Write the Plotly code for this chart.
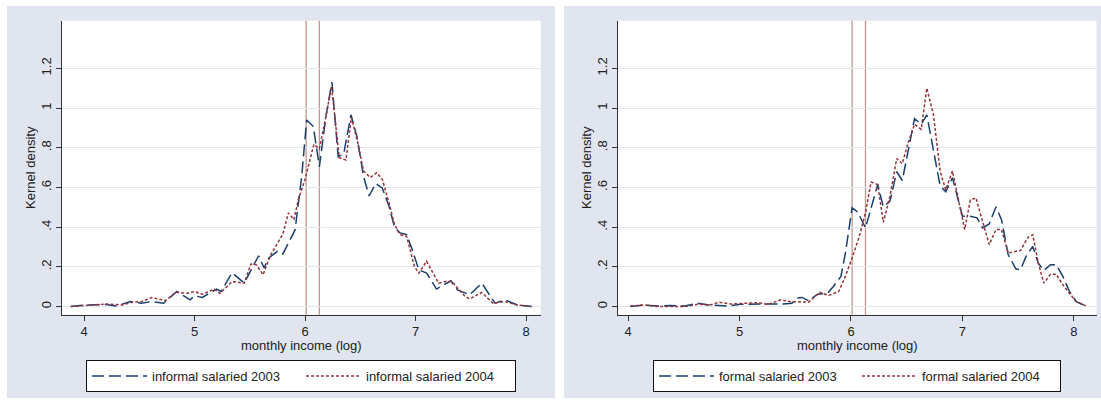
import plotly.graph_objects as go

W, H = 1101, 400

# ---------------- data ----------------
inf03_x = [3.88, 4.00, 4.20, 4.29, 4.42, 4.52, 4.61, 4.72, 4.84, 4.96, 5.00, 5.07, 5.20, 5.24, 5.34, 5.45,
           5.58, 5.63, 5.67, 5.75, 5.80, 5.91, 5.97, 6.015, 6.075, 6.13, 6.19, 6.244, 6.30, 6.35, 6.416,
           6.47, 6.53, 6.58, 6.64, 6.70, 6.76, 6.81, 6.86, 6.92, 6.97, 7.03, 7.10, 7.19, 7.32, 7.38, 7.49,
           7.60, 7.72, 7.81, 7.92, 8.05]
inf03_y = [0, 0.008, 0.01, 0.003, 0.025, 0.017, 0.025, 0.017, 0.076, 0.034, 0.054, 0.046, 0.088, 0.076,
           0.17, 0.118, 0.256, 0.194, 0.244, 0.278, 0.265, 0.386, 0.655, 0.94, 0.907, 0.705, 0.96, 1.13,
           0.755, 0.769, 0.966, 0.856, 0.655, 0.557, 0.62, 0.596, 0.506, 0.40, 0.371, 0.362, 0.287, 0.185,
           0.169, 0.088, 0.13, 0.084, 0.059, 0.118, 0.017, 0.034, 0.008, 0]

inf04_x = [3.88, 4.00, 4.20, 4.34, 4.44, 4.52, 4.61, 4.74, 4.83, 4.94, 5.00, 5.07, 5.18, 5.23, 5.34, 5.45,
           5.51, 5.56, 5.62, 5.69, 5.75, 5.80, 5.85, 5.90, 5.94, 6.00, 6.08, 6.13, 6.19, 6.24, 6.31, 6.37,
           6.42, 6.47, 6.53, 6.59, 6.65, 6.70, 6.76, 6.81, 6.86, 6.92, 6.99, 7.03, 7.10, 7.21, 7.27, 7.33,
           7.45, 7.49, 7.60, 7.70, 7.81, 7.92, 8.05]
inf04_y = [0, 0.005, 0.013, 0.008, 0.022, 0.025, 0.045, 0.03, 0.072, 0.067, 0.076, 0.062, 0.088, 0.066,
           0.126, 0.118, 0.214, 0.21, 0.16, 0.261, 0.32, 0.366, 0.472, 0.438, 0.54, 0.64, 0.817, 0.795,
           0.96, 1.11, 0.75, 0.738, 0.952, 0.843, 0.683, 0.65, 0.674, 0.64, 0.523, 0.413, 0.362, 0.354,
           0.202, 0.168, 0.228, 0.118, 0.126, 0.126, 0.05, 0.039, 0.071, 0.017, 0.025, 0.008, 0]

frm03_x = [4.02, 4.15, 4.26, 4.38, 4.51, 4.62, 4.73, 4.89, 5.01, 5.14, 5.25, 5.39, 5.47, 5.51, 5.56, 5.62,
           5.70, 5.79, 5.84, 5.91, 5.95, 6.01, 6.06, 6.13, 6.24, 6.29, 6.35, 6.41, 6.46, 6.57, 6.63, 6.68,
           6.80, 6.85, 6.91, 7.00, 7.07, 7.13, 7.18, 7.24, 7.30, 7.35, 7.41, 7.48, 7.52, 7.57, 7.63, 7.68,
           7.73, 7.79, 7.84, 7.90, 7.96, 8.02, 8.12]
frm03_y = [0, 0.008, 0.003, 0.005, 0.003, 0.017, 0.008, 0.003, 0.012, 0.012, 0.015, 0.013, 0.017, 0.042,
           0.046, 0.029, 0.062, 0.067, 0.10, 0.152, 0.27, 0.497, 0.477, 0.396, 0.615, 0.502, 0.531, 0.679,
           0.635, 0.947, 0.918, 0.966, 0.607, 0.578, 0.649, 0.455, 0.455, 0.447, 0.396, 0.416, 0.502,
           0.438, 0.261, 0.189, 0.185, 0.253, 0.303, 0.219, 0.182, 0.211, 0.211, 0.152, 0.076, 0.025, 0]

frm04_x = [4.02, 4.15, 4.26, 4.51, 4.63, 4.73, 4.82, 4.92, 5.07, 5.17, 5.25, 5.37, 5.45, 5.51, 5.62, 5.72,
           5.80, 5.89, 5.95, 6.01, 6.07, 6.13, 6.18, 6.24, 6.29, 6.35, 6.41, 6.46, 6.51, 6.57, 6.63, 6.68,
           6.74, 6.80, 6.85, 6.91, 6.96, 7.02, 7.07, 7.12, 7.24, 7.30, 7.35, 7.41, 7.52, 7.59, 7.63, 7.68,
           7.73, 7.79, 7.84, 7.90, 7.96, 8.02, 8.12]
frm04_y = [0.003, 0.008, 0, 0, 0.012, 0.007, 0.022, 0.013, 0.017, 0.02, 0.01, 0.034, 0.025, 0.025, 0.022,
           0.072, 0.056, 0.076, 0.152, 0.245, 0.345, 0.472, 0.627, 0.615, 0.424, 0.556, 0.745, 0.72, 0.82,
           0.918, 0.893, 1.10, 0.965, 0.68, 0.588, 0.683, 0.556, 0.388, 0.536, 0.548, 0.312, 0.388, 0.388,
           0.27, 0.283, 0.35, 0.362, 0.219, 0.118, 0.163, 0.163, 0.11, 0.067, 0.025, 0]

vlines = [6.01, 6.13]
x_ticks = [4, 5, 6, 7, 8]
y_ticks = [0, 0.2, 0.4, 0.6, 0.8, 1.0, 1.2]
y_ticktext = ["0", ".2", ".4", ".6", ".8", "1", "1.2"]
names_left = ["informal salaried 2003", "informal salaried 2004"]
names_right = ["formal salaried 2003", "formal salaried 2004"]
x_title = "monthly income (log)"
y_title = "Kernel density"

# ---------------- styling ----------------
FONT = "Arial, Liberation Sans, sans-serif"
NAVY = "#1a3f6f"
MAROON = "#95353b"
VCOL = "#bf978e"
PANEL = "#e1e5ef"
GRID = "#e2e7f0"
AXC = "#333333"
DASH03 = "12px,5px"
DASH04 = "3px,2px"


def px(x):
    return x / W


def py(y):
    return 1 - y / H


fig = go.Figure()

fig.add_trace(go.Scatter(x=inf03_x, y=inf03_y, mode="lines", name=names_left[0],
                         line=dict(color=NAVY, width=1.5, dash=DASH03), xaxis="x", yaxis="y", legend="legend"))
fig.add_trace(go.Scatter(x=inf04_x, y=inf04_y, mode="lines", name=names_left[1],
                         line=dict(color=MAROON, width=1.5, dash=DASH04), xaxis="x", yaxis="y", legend="legend"))
fig.add_trace(go.Scatter(x=frm03_x, y=frm03_y, mode="lines", name=names_right[0],
                         line=dict(color=NAVY, width=1.5, dash=DASH03), xaxis="x2", yaxis="y2", legend="legend2"))
fig.add_trace(go.Scatter(x=frm04_x, y=frm04_y, mode="lines", name=names_right[1],
                         line=dict(color=MAROON, width=1.5, dash=DASH04), xaxis="x2", yaxis="y2", legend="legend2"))

# white strips around / between the two light panels (paper is the panel colour)
strips = [(0, 7, 0, 400), (555, 564, 0, 400), (0, 1101, 0, 6), (0, 1101, 398, 400)]
shapes = [dict(type="rect", xref="paper", yref="paper", x0=px(a), x1=px(b), y0=py(d), y1=py(c),
               fillcolor="white", line=dict(width=0), layer="below") for a, b, c, d in strips]
for xr, yr in (("x", "y domain"), ("x2", "y2 domain")):
    for v in vlines:
        shapes.append(dict(type="line", xref=xr, yref=yr, x0=v, x1=v, y0=0, y1=1,
                           line=dict(color=VCOL, width=1.3), layer="below"))

common_x = dict(tickvals=x_ticks, showgrid=False, zeroline=False, showline=True, linecolor=AXC, linewidth=1,
                ticks="outside", ticklen=5, tickcolor=AXC, tickfont=dict(size=13, color="#222"))
common_y = dict(tickvals=y_ticks, ticktext=y_ticktext, tickangle=-90, showgrid=True, gridcolor=GRID,
                gridwidth=1.2, zeroline=False, showline=True, linecolor=AXC, linewidth=1,
                ticks="outside", ticklen=5, tickcolor=AXC, tickfont=dict(size=13, color="#222"))

fig.update_layout(
    width=W, height=H,
    margin=dict(l=0, r=0, t=0, b=0, autoexpand=False),
    paper_bgcolor=PANEL, plot_bgcolor="white",
    font=dict(family=FONT, size=13, color="#222"),
    shapes=shapes,
    xaxis=dict(domain=[px(61.7), px(540.7)], range=[3.798, 8.133], anchor="y", **common_x),
    yaxis=dict(domain=[py(314.7), py(20.7)], range=[-0.041, 1.440], anchor="x", **common_y),
    xaxis2=dict(domain=[px(618.3), px(1096.5)], range=[3.913, 8.202], anchor="y2", **common_x),
    yaxis2=dict(domain=[py(314.7), py(20.7)], range=[-0.041, 1.440], anchor="x2", **common_y),
    legend=dict(orientation="h", x=px(86), y=py(360), xanchor="left", yanchor="top",
                bgcolor="white", bordercolor="#111", borderwidth=1, font=dict(size=13),
                entrywidth=144, itemwidth=55),
    legend2=dict(orientation="h", x=px(653), y=py(360), xanchor="left", yanchor="top",
                 bgcolor="white", bordercolor="#111", borderwidth=1, font=dict(size=13),
                 entrywidth=133, itemwidth=55),
    annotations=[
        dict(text=y_title, xref="paper", yref="paper", x=px(31), y=py(168), showarrow=False,
             textangle=-90, font=dict(size=13), xanchor="center", yanchor="middle"),
        dict(text=y_title, xref="paper", yref="paper", x=px(587), y=py(168), showarrow=False,
             textangle=-90, font=dict(size=13), xanchor="center", yanchor="middle"),
        dict(text=x_title, xref="paper", yref="paper", x=px(301), y=py(345.5), showarrow=False,
             font=dict(size=13), xanchor="center", yanchor="middle"),
        dict(text=x_title, xref="paper", yref="paper", x=px(857.5), y=py(345.5), showarrow=False,
             font=dict(size=13), xanchor="center", yanchor="middle"),
    ],
)

fig.write_html("out.html", config={"displayModeBar": False},
               post_script="document.body.style.margin='0';document.body.style.overflow='hidden';")
